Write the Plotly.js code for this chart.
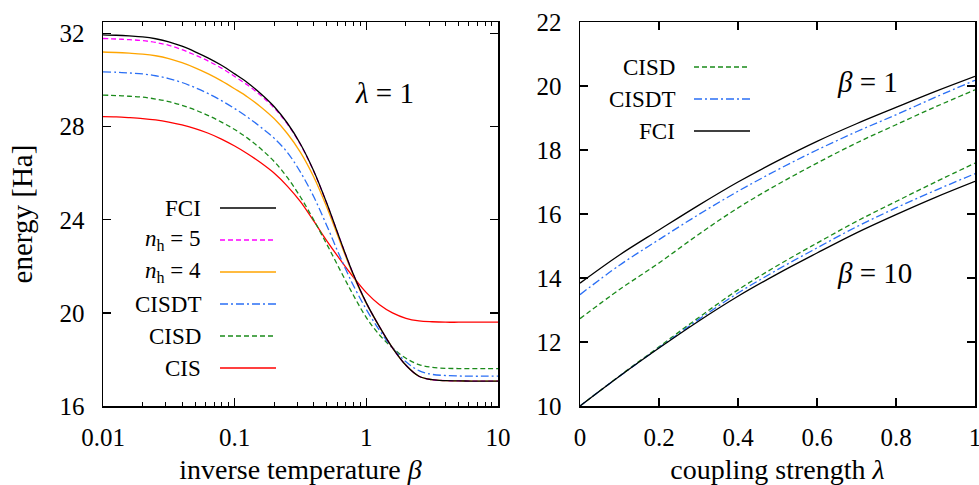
<!DOCTYPE html>
<html>
<head>
<meta charset="utf-8">
<script src="https://cdn.plot.ly/plotly-3.0.1.min.js"></script>
<style>html,body{margin:0;padding:0;background:#fff;}#chart{width:979px;height:485px;}</style>
</head>
<body>
<div id="chart"></div>
<script>
// ---- Left panel: energy vs inverse temperature beta (lambda = 1) ----
const beta = [0.01, 0.0126, 0.0158, 0.02, 0.0251, 0.0316, 0.0398, 0.0501, 0.0631, 0.0794,
              0.1, 0.126, 0.158, 0.2, 0.251, 0.316, 0.398, 0.501, 0.631, 0.794,
              1, 1.26, 1.58, 2, 2.51, 3.16, 3.98, 5.01, 6.31, 7.94, 10];
const fciBeta   = [31.95, 31.93, 31.90, 31.86, 31.78, 31.65, 31.46, 31.22, 30.95, 30.64,
                   30.27, 29.88, 29.42, 28.86, 28.16, 27.26, 26.11, 24.71, 23.16, 21.68,
                   20.43, 19.40, 18.50, 17.75, 17.28, 17.13, 17.09, 17.08, 17.07, 17.07, 17.07];
const nh5Beta   = [31.79, 31.77, 31.74, 31.70, 31.62, 31.50, 31.31, 31.08, 30.82, 30.52,
                   30.16, 29.78, 29.34, 28.80, 28.12, 27.23, 26.09, 24.70, 23.16, 21.68,
                   20.43, 19.40, 18.50, 17.75, 17.28, 17.13, 17.09, 17.08, 17.07, 17.07, 17.07];
const nh4Beta   = [31.21, 31.19, 31.16, 31.12, 31.05, 30.93, 30.75, 30.53, 30.27, 29.97,
                   29.63, 29.27, 28.85, 28.34, 27.71, 26.90, 25.85, 24.54, 23.06, 21.63,
                   20.41, 19.40, 18.50, 17.75, 17.28, 17.13, 17.09, 17.08, 17.07, 17.07, 17.07];
const cisdtBeta = [30.36, 30.34, 30.31, 30.27, 30.19, 30.07, 29.90, 29.68, 29.42, 29.12,
                   28.78, 28.40, 27.98, 27.50, 26.90, 26.05, 25.00, 23.75, 22.42, 21.20,
                   20.15, 19.25, 18.50, 17.90, 17.52, 17.36, 17.31, 17.29, 17.28, 17.28, 17.28];
const cisdBeta  = [29.36, 29.34, 29.31, 29.27, 29.19, 29.08, 28.92, 28.72, 28.48, 28.20,
                   27.88, 27.50, 27.05, 26.50, 25.82, 24.98, 24.00, 22.95, 21.85, 20.78,
                   19.80, 19.05, 18.50, 18.05, 17.78, 17.66, 17.62, 17.61, 17.61, 17.61, 17.61];
const cisBeta   = [28.43, 28.42, 28.39, 28.35, 28.29, 28.20, 28.08, 27.92, 27.72, 27.47,
                   27.17, 26.83, 26.45, 26.00, 25.45, 24.78, 23.95, 23.10, 22.30, 21.55,
                   20.87, 20.35, 20.00, 19.77, 19.66, 19.62, 19.60, 19.60, 19.60, 19.60, 19.60];

// ---- Right panel: energy vs coupling strength lambda ----
const lambda = [0, 0.1, 0.2, 0.3, 0.4, 0.5, 0.6, 0.7, 0.8, 0.9, 1.0];
const fciB1    = [13.84, 14.72, 15.50, 16.27, 17.00, 17.66, 18.27, 18.82, 19.33, 19.83, 20.30];
const cisdtB1  = [13.48, 14.40, 15.20, 15.98, 16.71, 17.38, 18.00, 18.57, 19.10, 19.65, 20.18];
const cisdB1   = [12.73, 13.64, 14.47, 15.36, 16.19, 16.92, 17.59, 18.22, 18.79, 19.35, 19.88];
const fciB10   = [10.00, 10.93, 11.81, 12.65, 13.43, 14.13, 14.78, 15.41, 15.98, 16.52, 17.02];
const cisdtB10 = [10.00, 10.93, 11.82, 12.70, 13.53, 14.26, 14.94, 15.60, 16.19, 16.74, 17.26];
const cisdB10  = [10.00, 10.94, 11.85, 12.76, 13.63, 14.39, 15.09, 15.77, 16.39, 17.00, 17.59];

const leftTickVals = [0.01, 0.1, 1, 10];
const leftTickText = ['0.01', '0.1', '1', '10'];
const leftYTicks = [16, 20, 24, 28, 32];
const rightTickVals = [0, 0.2, 0.4, 0.6, 0.8, 1];
const rightTickText = ['0', '0.2', '0.4', '0.6', '0.8', '1'];
const rightYTicks = [10, 12, 14, 16, 18, 20, 22];

const C = {fci:'#000000', nh5:'#ff00ff', nh4:'#ffa500', cisdt:'#2a6ff5', cisd:'#1a8a1a', cis:'#ff0000'};
const DASH = '5px,3px';
const DASHDOT = '8px,3px,2px,3px';
const LW = 1.3;
const FONT = 'Liberation Serif';

function tr(x, y, color, dash, xa, ya, name) {
  return {x: x, y: y, type: 'scatter', mode: 'lines', name: name, xaxis: xa, yaxis: ya,
          line: {color: color, width: LW, dash: dash, shape: 'spline', smoothing: 1},
          hoverinfo: 'skip', showlegend: false};
}

const data = [
  tr(beta, cisBeta,   C.cis,   'solid', 'x', 'y', 'CIS'),
  tr(beta, cisdBeta,  C.cisd,  DASH,    'x', 'y', 'CISD'),
  tr(beta, cisdtBeta, C.cisdt, DASHDOT, 'x', 'y', 'CISDT'),
  tr(beta, nh4Beta,   C.nh4,   'solid', 'x', 'y', 'nh=4'),
  tr(beta, nh5Beta,   C.nh5,   DASH,    'x', 'y', 'nh=5'),
  tr(beta, fciBeta,   C.fci,   'solid', 'x', 'y', 'FCI'),
  tr(lambda, cisdB1,   C.cisd,  DASH,    'x2', 'y2', 'CISD b1'),
  tr(lambda, cisdtB1,  C.cisdt, DASHDOT, 'x2', 'y2', 'CISDT b1'),
  tr(lambda, fciB1,    C.fci,   'solid', 'x2', 'y2', 'FCI b1'),
  tr(lambda, cisdB10,  C.cisd,  DASH,    'x2', 'y2', 'CISD b10'),
  tr(lambda, cisdtB10, C.cisdt, DASHDOT, 'x2', 'y2', 'CISDT b10'),
  tr(lambda, fciB10,   C.fci,   'solid', 'x2', 'y2', 'FCI b10')
];

const axBase = {
  showline: true, linecolor: '#000', linewidth: 1.5, mirror: 'ticks',
  ticks: 'inside', ticklen: 8, tickwidth: 1.2, tickcolor: '#000',
  showgrid: false, zeroline: false, ticklabeloverflow: 'allow',
  tickfont: {family: FONT, size: 25, color: '#000'}
};

const W = 979, H = 485;
const L = 103, R = W - 975, T = 22, B = H - 406;
const pw = W - L - R;
const x1dom = [0, (498 - 103) / pw];
const x2dom = [(580 - 103) / pw, 1];

// legend samples (gnuplot style: text left, sample right)
const leftLegend = [
  ['FCI', C.fci, 'solid'],
  ['<i>n</i><sub>h</sub> = 5', C.nh5, DASH],
  ['<i>n</i><sub>h</sub> = 4', C.nh4, 'solid'],
  ['CISDT', C.cisdt, DASHDOT],
  ['CISD', C.cisd, DASH],
  ['CIS', C.cis, 'solid']
];
const rightLegend = [
  ['CISD', C.cisd, DASH],
  ['CISDT', C.cisdt, DASHDOT],
  ['FCI', C.fci, 'solid']
];

const annotations = [];
const shapes = [];
function px2paperX(px) { return (px - L) / pw; }
function py2paperY(py) { return 1 - (py - T) / (H - T - B); }

leftLegend.forEach((e, i) => {
  const py = 208 + 32 * i;
  annotations.push({xref: 'paper', yref: 'paper', x: px2paperX(203), y: py2paperY(py), xanchor: 'right', yanchor: 'middle',
    text: e[0], showarrow: false, font: {family: FONT, size: 23, color: '#000'}});
  shapes.push({type: 'line', xref: 'paper', yref: 'paper', x0: px2paperX(220), x1: px2paperX(276), y0: py2paperY(py), y1: py2paperY(py),
    line: {color: e[1], width: LW, dash: e[2]}});
});
rightLegend.forEach((e, i) => {
  const py = 67 + 32 * i;
  annotations.push({xref: 'paper', yref: 'paper', x: px2paperX(677), y: py2paperY(py), xanchor: 'right', yanchor: 'middle',
    text: e[0], showarrow: false, font: {family: FONT, size: 23, color: '#000'}});
  shapes.push({type: 'line', xref: 'paper', yref: 'paper', x0: px2paperX(694), x1: px2paperX(750), y0: py2paperY(py), y1: py2paperY(py),
    line: {color: e[1], width: LW, dash: e[2]}});
});

annotations.push({xref: 'paper', yref: 'paper', x: px2paperX(384), y: py2paperY(93), xanchor: 'center', yanchor: 'middle',
  text: '<i>λ</i> = 1', showarrow: false, font: {family: FONT, size: 29, color: '#000'}});
annotations.push({xref: 'paper', yref: 'paper', x: px2paperX(867), y: py2paperY(82), xanchor: 'center', yanchor: 'middle',
  text: '<i>β</i> = 1', showarrow: false, font: {family: FONT, size: 29, color: '#000'}});
annotations.push({xref: 'paper', yref: 'paper', x: px2paperX(874), y: py2paperY(273), xanchor: 'center', yanchor: 'middle',
  text: '<i>β</i> = 10', showarrow: false, font: {family: FONT, size: 29, color: '#000'}});

const layout = {
  width: W, height: H,
  margin: {l: L, r: R, t: T, b: B, pad: 0},
  paper_bgcolor: '#fff', plot_bgcolor: '#fff',
  showlegend: false,
  font: {family: FONT, color: '#000'},
  xaxis: Object.assign({}, axBase, {
    domain: x1dom, anchor: 'y', type: 'log', range: [-2, 1],
    tickvals: leftTickVals, ticktext: leftTickText, ticklabelstandoff: 8,
    minor: {ticks: 'inside', ticklen: 4, tickwidth: 1, tickcolor: '#000', dtick: 'D1', showgrid: false},
    title: {text: 'inverse temperature <i>β</i>', font: {family: FONT, size: 28, color: '#000'}, standoff: 15}
  }),
  yaxis: Object.assign({}, axBase, {
    domain: [0, 1], anchor: 'x', range: [16, 32.5], tickvals: leftYTicks, ticklabelstandoff: 12,
    title: {text: 'energy [Ha]', font: {family: FONT, size: 29, color: '#000'}, standoff: 18}
  }),
  xaxis2: Object.assign({}, axBase, {
    domain: x2dom, anchor: 'y2', range: [0, 1], tickvals: rightTickVals, ticktext: rightTickText, ticklabelstandoff: 8,
    title: {text: 'coupling strength <i>λ</i>', font: {family: FONT, size: 28, color: '#000'}, standoff: 15}
  }),
  yaxis2: Object.assign({}, axBase, {
    domain: [0, 1], anchor: 'x2', range: [10, 22], tickvals: rightYTicks, ticklabelstandoff: 12
  }),
  annotations: annotations,
  shapes: shapes
};

Plotly.newPlot('chart', data, layout, {staticPlot: true, displayModeBar: false});
</script>
</body>
</html>
